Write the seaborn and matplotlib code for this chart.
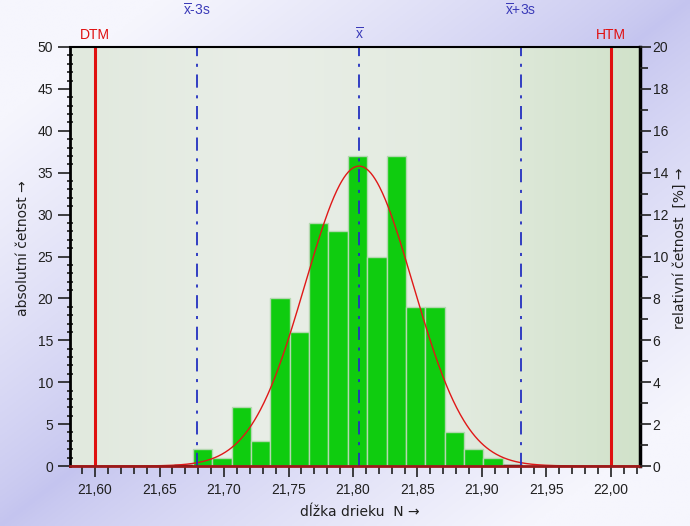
import numpy as np
import pandas as pd
import matplotlib
matplotlib.use("Agg")
import matplotlib.pyplot as plt
from matplotlib.colors import LinearSegmentedColormap, to_rgb
from matplotlib.ticker import MultipleLocator, FuncFormatter
import seaborn as sns

# --- data -------------------------------------------------------------
bin_start = 21.661          # left edge of the first class
bin_width = 0.015           # class width
counts = [0, 2, 1, 7, 3, 20, 16, 29, 28, 37, 25, 37, 19, 19, 4, 2, 1, 0]
mean = 21.8047              # sample mean
sdev = 0.0418               # sample standard deviation
lsl = 21.60                 # DTM (lower tolerance limit)
usl = 22.00                 # HTM (upper tolerance limit)
x_ticks = [21.60, 21.65, 21.70, 21.75, 21.80, 21.85, 21.90, 21.95, 22.00]

n_total = sum(counts)
n_bins = len(counts)
edges = bin_start + bin_width * np.arange(n_bins + 1)
centers = (edges[:-1] + edges[1:]) / 2
hist_df = pd.DataFrame({"length": centers, "count": counts})

sns.set_style("ticks")
plt.rcParams["font.family"] = ["Liberation Sans", "DejaVu Sans"]
plt.rcParams["mathtext.fontset"] = "custom"
plt.rcParams["mathtext.rm"] = "Liberation Sans"
plt.rcParams["mathtext.it"] = "Liberation Sans:italic"
plt.rcParams["mathtext.fallback"] = "stixsans"
plt.rcParams["lines.scale_dashes"] = False

fig = plt.figure(figsize=(6.9, 5.26), dpi=100)

# figure background: lavender/white diagonal gradient
bg_ax = fig.add_axes([0, 0, 1, 1], zorder=-10)
gx, gy = np.meshgrid(np.linspace(0, 1, 300), np.linspace(1, 0, 230))
t = np.clip(np.abs(gx - gy) * 1.3, 0, 1) ** 0.8
lav = np.array(to_rgb("#c4c4ef"))
wht = np.array(to_rgb("#f6f6fd"))
img = lav[None, None, :] * (1 - t[..., None]) + wht[None, None, :] * t[..., None]
bg_ax.imshow(img, extent=[0, 1, 0, 1], aspect="auto")
bg_ax.set_axis_off()

ax = fig.add_axes([70 / 690, 1 - 466 / 526, 570 / 690, 419 / 526])

# plot area: soft greenish gradient
pa_cmap = LinearSegmentedColormap.from_list(
    "pa", ["#e1e9de", "#e9eee7", "#e3ebe0", "#d1e2ca"], N=256)
ax.imshow(np.linspace(0, 1, 256)[None, :], cmap=pa_cmap, extent=[0, 1, 0, 1],
          transform=ax.transAxes, aspect="auto", zorder=0)

# histogram of absolute frequencies
sns.histplot(data=hist_df, x="length", weights="count", bins=n_bins,
             binrange=(edges[0], edges[-1]), ax=ax, stat="count",
             color="#0fcc0f", alpha=1.0, edgecolor="#b4d8b0",
             linewidth=1.0, zorder=2)
for p in ax.patches:
    if p.get_height() == 0:
        p.set_edgecolor("#101010")
        p.set_linewidth(2.5)

x_lo, x_hi = 21.5806, 22.0225

# fitted normal curve scaled to counts
xs = np.linspace(x_lo, x_hi, 800)
ys = n_total * bin_width / (sdev * np.sqrt(2 * np.pi)) * np.exp(-0.5 * ((xs - mean) / sdev) ** 2)
sns.lineplot(x=xs, y=ys, ax=ax, color="#e01818", linewidth=1.0, zorder=4,
             sort=False, estimator=None)

# tolerance limits and mean +/- 3s
ax.axvline(lsl, color="#e01010", linewidth=2.2, zorder=5)
ax.axvline(usl, color="#e01010", linewidth=2.2, zorder=5)
dash = (0, (9.5, 5.5, 2.2, 5.5))
for xv in (mean - 3 * sdev, mean, mean + 3 * sdev):
    ax.axvline(xv, color="#2430c0", linewidth=1.3, linestyle=dash, zorder=5)

ax.set_xlim(x_lo, x_hi)
ax.set_ylim(0, 50)

xbar = r"$\overline{\mathrm{x}}$"
trans = matplotlib.transforms.blended_transform_factory(ax.transData, ax.transAxes)
ax.text(lsl, 1.029, "DTM", color="#e01010", fontsize=10, ha="center", va="center", transform=trans)
ax.text(usl, 1.029, "HTM", color="#e01010", fontsize=10, ha="center", va="center", transform=trans)
ax.text(mean, 1.029, xbar, color="#3a3ab8", fontsize=10, ha="center", va="center", transform=trans)
ax.text(mean - 3 * sdev, 1.088, xbar + "-3s", color="#3a3ab8", fontsize=10, ha="center", va="center", transform=trans)
ax.text(mean + 3 * sdev, 1.088, xbar + "+3s", color="#3a3ab8", fontsize=10, ha="center", va="center", transform=trans)

# axes styling
for side in ("left", "right", "top"):
    ax.spines[side].set_visible(True)
    ax.spines[side].set_color("black")
    ax.spines[side].set_zorder(6)
ax.spines["left"].set_linewidth(2.0)
ax.spines["right"].set_linewidth(2.5)
ax.spines["top"].set_linewidth(1.5)
ax.spines["bottom"].set_color("#9a1a1a")
ax.spines["bottom"].set_linewidth(2.0)
ax.spines["bottom"].set_zorder(6)

ax.set_xticks(x_ticks)
ax.xaxis.set_minor_locator(MultipleLocator(0.01))
ax.xaxis.set_major_formatter(FuncFormatter(lambda v, _: f"{v:.2f}".replace(".", ",")))
ax.yaxis.set_major_locator(MultipleLocator(5))
ax.yaxis.set_minor_locator(MultipleLocator(1))
ax.yaxis.set_major_formatter(FuncFormatter(lambda v, _: f"{v:.0f}"))
ax.tick_params(axis="x", which="major", direction="out", length=8, width=1.2,
               labelsize=10, pad=4, color="#202020", labelcolor="#202020")
ax.tick_params(axis="x", which="minor", direction="out", length=6, width=1.2, color="#202020")
ax.tick_params(axis="y", which="major", direction="out", length=9, width=1.2,
               labelsize=10, pad=3, color="#202020", labelcolor="#202020")
ax.tick_params(axis="y", which="minor", direction="inout", length=5, width=1.2, color="#202020")

label_font = dict(fontsize=10, color="#202020", family="DejaVu Sans")
ax.set_xlabel("dĺžka drieku  N \u2192", **label_font)
ax.xaxis.set_label_coords(0.509, -0.093)
ax.set_ylabel("absolutní četnost \u2192", **label_font)
ax.yaxis.set_label_coords(-0.070, 0.52)

# secondary axis: relative frequency in percent
ax2 = ax.twinx()
ax2.set_ylim(0, 50 / n_total * 100)
ax2.yaxis.set_major_locator(MultipleLocator(2))
ax2.yaxis.set_minor_locator(MultipleLocator(1))
ax2.yaxis.set_major_formatter(FuncFormatter(lambda v, _: f"{v:.0f}"))
ax2.tick_params(axis="y", which="major", direction="out", length=8, width=1.2,
                labelsize=10, pad=1, color="#202020", labelcolor="#202020")
ax2.tick_params(axis="y", which="minor", direction="out", length=6, width=1.2, color="#202020")
for side in ("left", "right", "top", "bottom"):
    ax2.spines[side].set_visible(False)
ax2.set_ylabel("relativní četnost  [%] \u2192", **label_font)
ax2.yaxis.set_label_coords(1.058, 0.52)

fig.savefig("out.png", dpi=100)
